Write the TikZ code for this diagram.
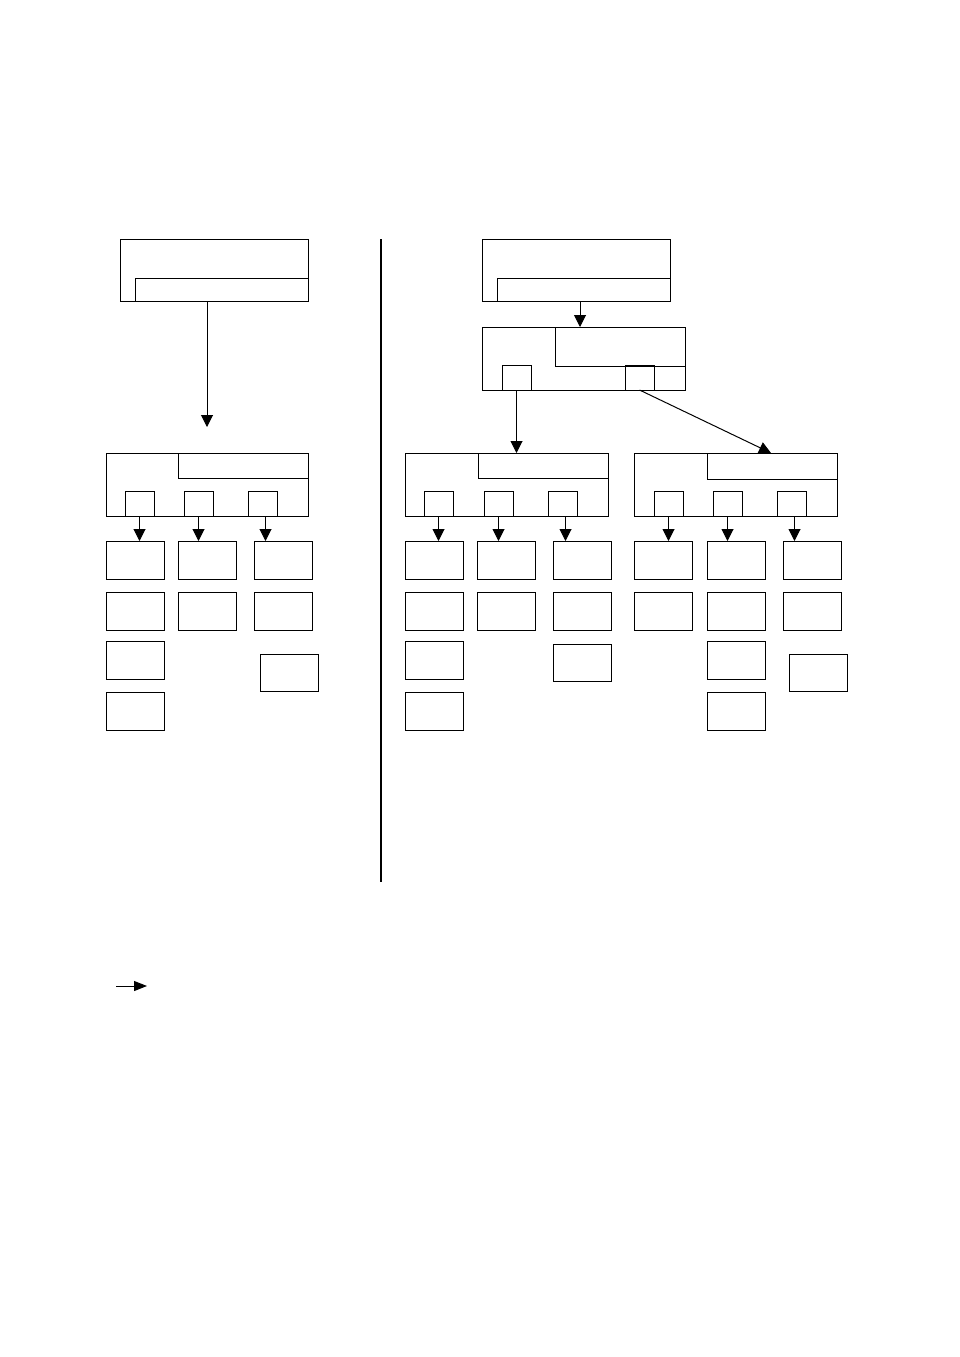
\documentclass[tikz,border=0pt]{standalone}
\usetikzlibrary{arrows.meta,calc}
\begin{document}
\begin{tikzpicture}[x=1pt,y=-1pt,
  box/.style={draw=black,line width=1pt,rectangle,inner sep=0pt,outer sep=0pt,anchor=north west},
  child/.style={box,minimum width=58pt,minimum height=38pt},
  sbox/.style={box,minimum width=29pt,minimum height=25pt},
  arr/.style={draw=black,line width=1pt,-{Triangle[width=12pt,length=12pt]}},
  plain/.style={draw=black,line width=1pt}]
\useasboundingbox[fill=white] (0,0) rectangle (960,1357);

% ---------- left part ----------
\node[box,minimum width=188pt,minimum height=62pt] (L1) at (120,239) {};
\node[box,minimum width=173pt,minimum height=23pt] (L1i) at (135,278) {};
\coordinate (Lend) at (207,427);
\draw[arr] ($(L1.south west)+(87,0)$) -- (Lend);

\node[box,minimum width=202pt,minimum height=63pt] (L2) at (106,453) {};
\node[box,minimum width=130pt,minimum height=25pt] (L2i) at (178,453) {};
\node[sbox] (ls1) at (125,491) {};
\node[sbox] (ls2) at (184,491) {};
\node[sbox] (ls3) at (248,491) {};

\node[child] (lc11) at (106,541) {};
\node[child] (lc12) at (106,592) {};
\node[child] (lc13) at (106,641) {};
\node[child] (lc14) at (106,692) {};
\node[child] (lc21) at (178,541) {};
\node[child] (lc22) at (178,592) {};
\node[child] (lc31) at (254,541) {};
\node[child] (lc32) at (254,592) {};
\node[child,minimum height=37pt] (lc33) at (260,654) {};

\draw[arr] (ls1.south) -- (ls1.south |- lc11.north);
\draw[arr] (ls2.south) -- (ls2.south |- lc21.north);
\draw[arr] ($(ls3.south)+(3,0)$) -- ($(ls3.south |- lc31.north)+(3,0)$);

% ---------- divider ----------
\coordinate (dTop) at (381,239);
\coordinate (dBot) at (381,882);
\draw[draw=black,line width=2pt] (dTop) -- (dBot);

% ---------- right part ----------
\node[box,minimum width=188pt,minimum height=62pt] (R1) at (482,239) {};
\node[box,minimum width=173pt,minimum height=23pt] (R1i) at (497,278) {};

\node[box,minimum width=203pt,minimum height=63pt] (R2) at (482,327) {};
\node[box,minimum width=130pt,minimum height=39pt] (R2i) at (555,327) {};
\node[sbox] (rs1) at (502,365) {};
\node[sbox] (rs2) at (625,365) {};

\draw[arr] ($(R1.south west)+(98,0)$) -- ($(R2.north west)+(98,0)$);

% R3a
\node[box,minimum width=203pt,minimum height=63pt] (Ra) at (405,453) {};
\node[box,minimum width=130pt,minimum height=25pt] (Rai) at (478,453) {};
\node[sbox] (as1) at (424,491) {};
\node[sbox] (as2) at (484,491) {};
\node[sbox] (as3) at (548,491) {};

\node[child] (ac11) at (405,541) {};
\node[child] (ac12) at (405,592) {};
\node[child] (ac13) at (405,641) {};
\node[child] (ac14) at (405,692) {};
\node[child] (ac21) at (477,541) {};
\node[child] (ac22) at (477,592) {};
\node[child] (ac31) at (553,541) {};
\node[child] (ac32) at (553,592) {};
\node[child,minimum height=37pt] (ac33) at (553,644) {};

\draw[arr] (as1.south) -- (as1.south |- ac11.north);
\draw[arr] (as2.south) -- (as2.south |- ac21.north);
\draw[arr] ($(as3.south)+(3,0)$) -- ($(as3.south |- ac31.north)+(3,0)$);

% R3b
\node[box,minimum width=203pt,minimum height=63pt] (Rb) at (634,453) {};
\node[box,minimum width=130pt,minimum height=26pt] (Rbi) at (707,453) {};
\node[sbox] (bs1) at (654,491) {};
\node[sbox] (bs2) at (713,491) {};
\node[sbox] (bs3) at (777,491) {};

\node[child] (bc11) at (634,541) {};
\node[child] (bc12) at (634,592) {};
\node[child] (bc21) at (707,541) {};
\node[child] (bc22) at (707,592) {};
\node[child] (bc23) at (707,641) {};
\node[child] (bc24) at (707,692) {};
\node[child] (bc31) at (783,541) {};
\node[child] (bc32) at (783,592) {};
\node[child,minimum height=37pt] (bc33) at (789,654) {};

\draw[arr] (bs1.south) -- (bs1.south |- bc11.north);
\draw[arr] (bs2.south) -- (bs2.south |- bc21.north);
\draw[arr] ($(bs3.south)+(3,0)$) -- ($(bs3.south |- bc31.north)+(3,0)$);

% connectors from R2
\draw[arr] (rs1.south) -- (rs1.south |- Ra.north);
\draw[arr] (rs2.south) -- ($(Rb.north west)+(137,0)$);

% ---------- legend ----------
\coordinate (lgA) at (116,986);
\coordinate (lgB) at (147,986);
\draw[draw=black,line width=1pt,-{Triangle[width=10pt,length=13pt]}] (lgA) -- (lgB);
\end{tikzpicture}
\end{document}
